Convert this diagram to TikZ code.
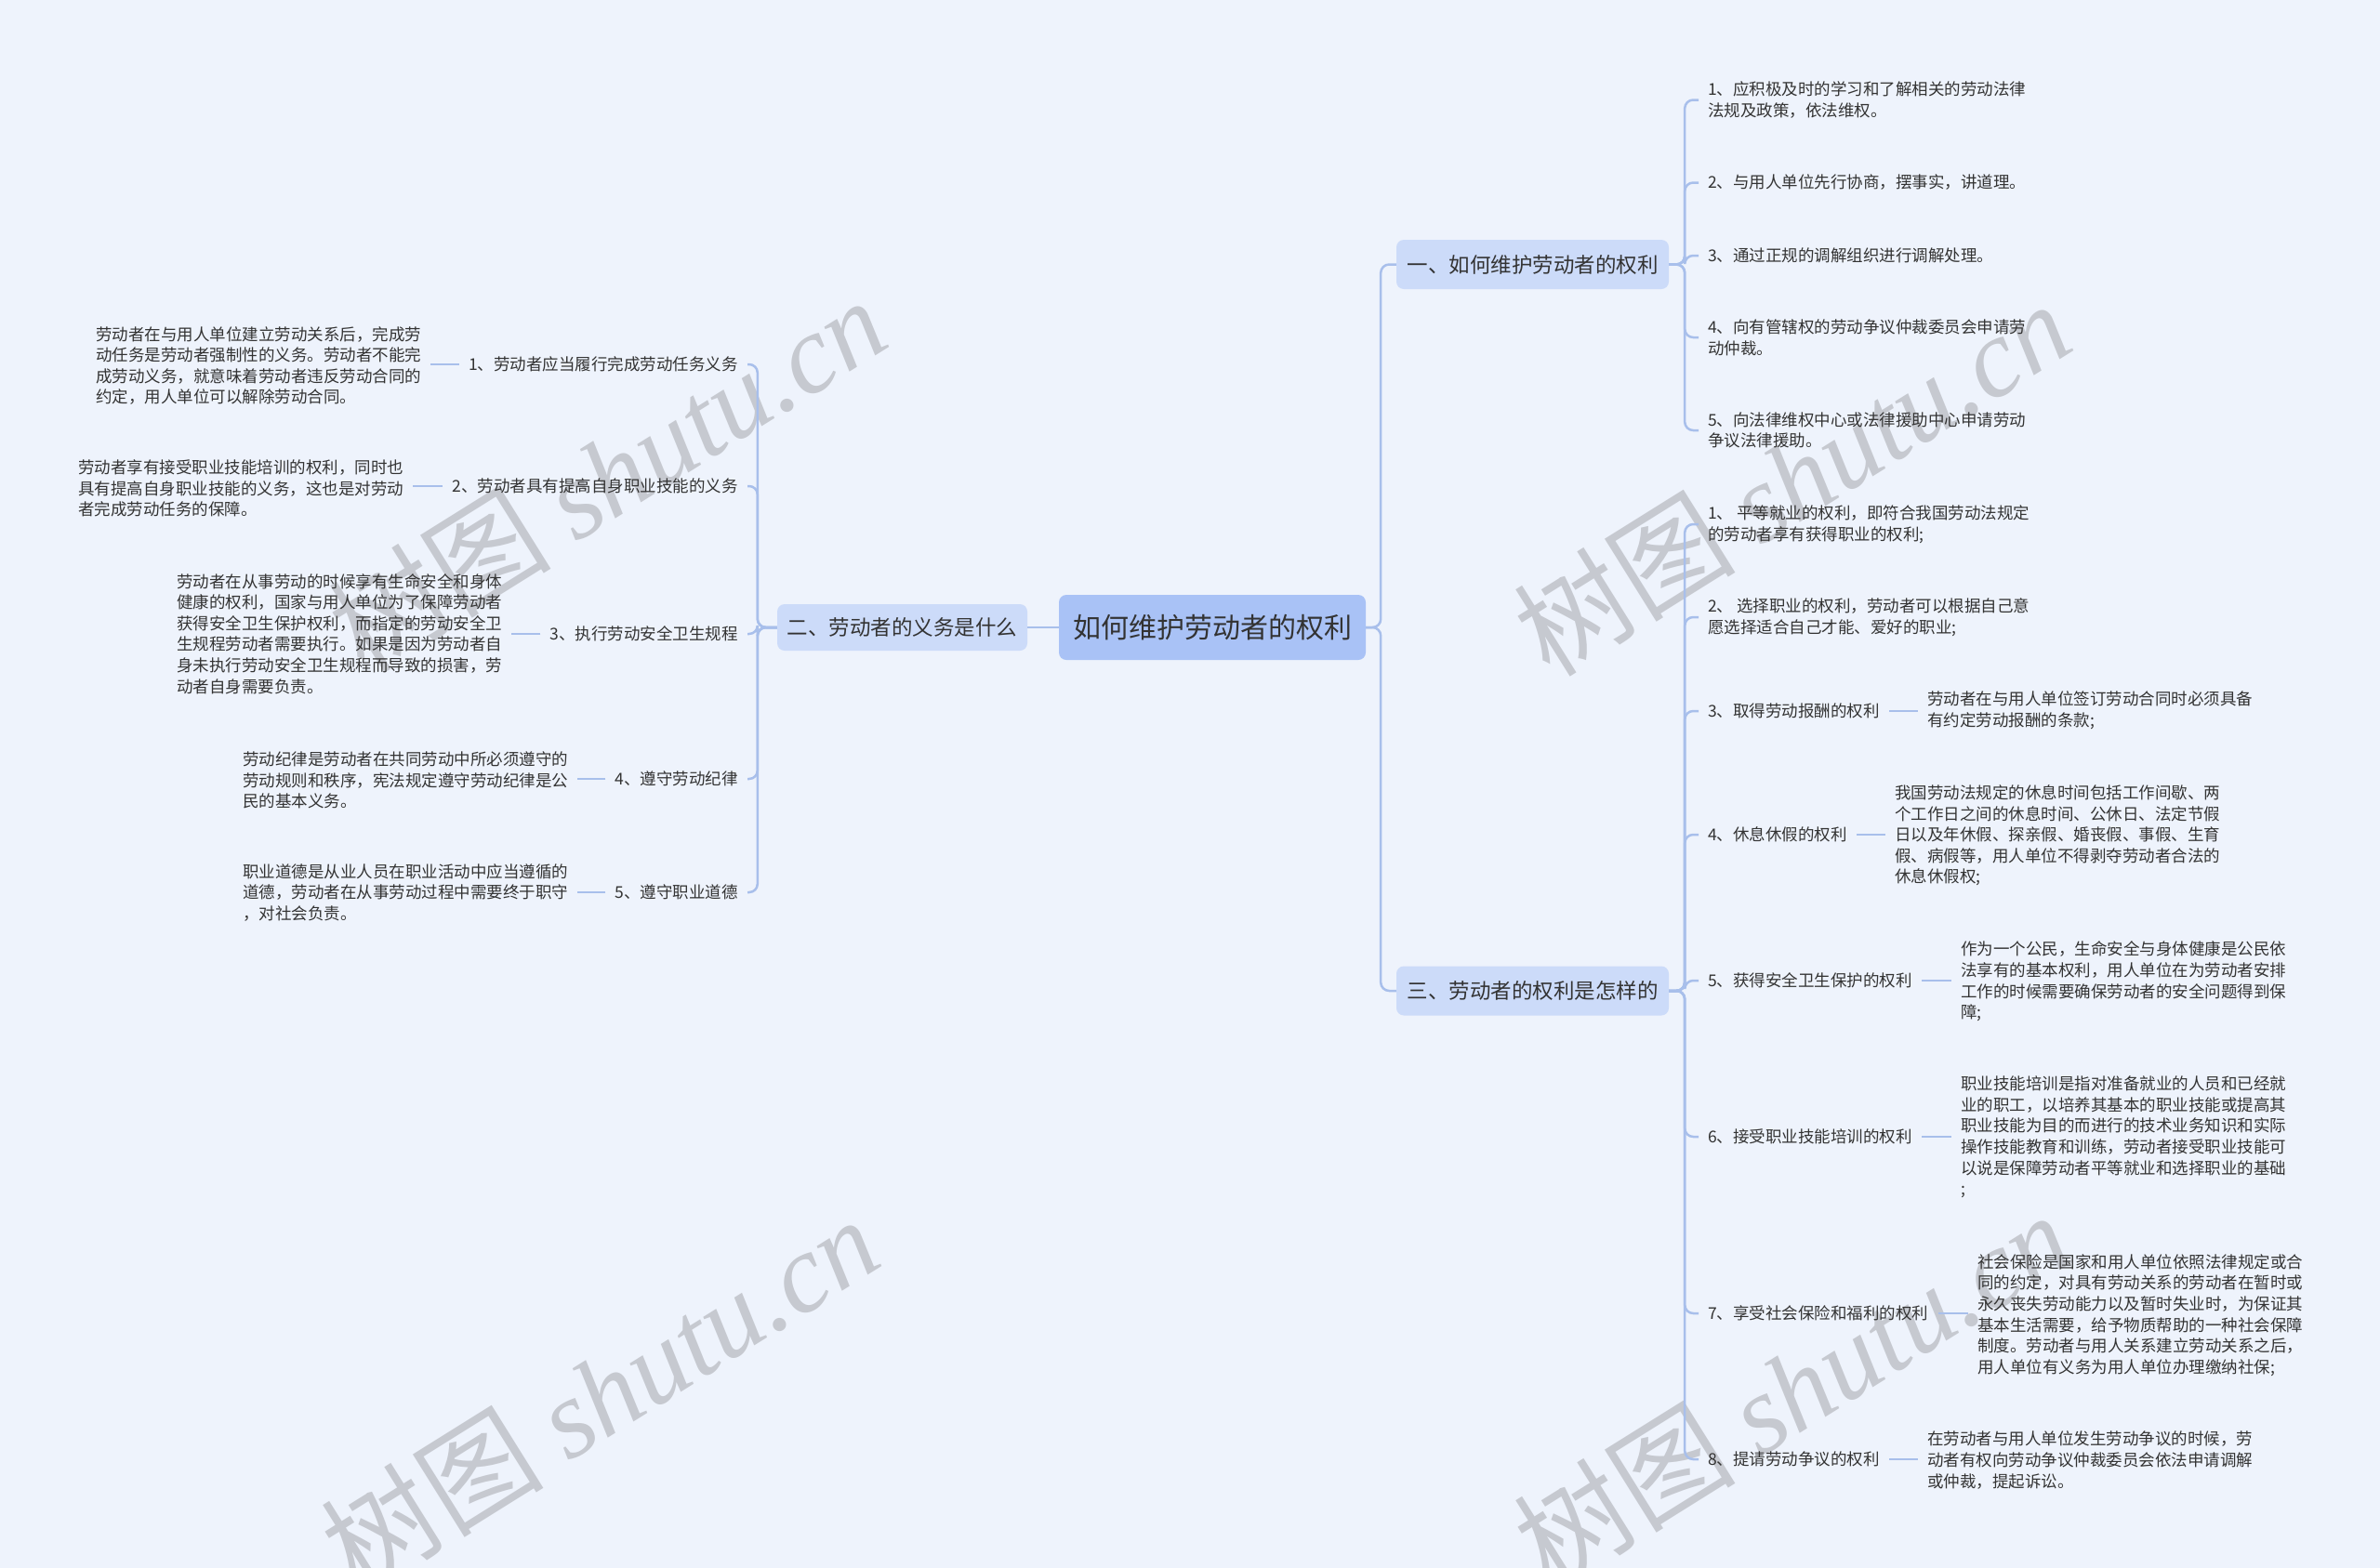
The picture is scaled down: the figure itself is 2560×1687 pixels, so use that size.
\documentclass[tikz,border=0pt]{standalone}
\usepackage{fontspec}
\setmainfont{Noto Sans CJK SC}
\newfontfamily\wmcjk{Noto Sans CJK SC}
\newfontfamily\wmlat{Liberation Serif}
\definecolor{bg}{HTML}{EEF3FC}
\definecolor{rootfill}{HTML}{A9C2F6}
\definecolor{brfill}{HTML}{CCDBF9}
\definecolor{edgec}{HTML}{A8BFEB}
\definecolor{txt}{HTML}{333333}
\definecolor{wm}{HTML}{C6C9D0}
\tikzset{
 rootbox/.style={fill=rootfill, rounded corners=8pt, minimum width=330pt, minimum height=70pt, inner sep=0pt, font=\fontsize{30}{36}\selectfont, text=txt},
 brbox/.style={fill=brfill, rounded corners=8pt, minimum width=293pt, minimum height=53pt, inner sep=0pt, font=\fontsize{22.5}{27}\selectfont, text=txt},
 itemtext/.style={inner xsep=10pt, inner ysep=0pt, align=left, font=\fontsize{17.5}{22.6}\selectfont, text=txt},
 conn/.style={draw=edgec, line width=2.5pt},
 busconn/.style={conn, rounded corners=9pt},
 watermark/.style={text=wm, rotate=32, font=\fontsize{120}{120}\selectfont}
}
\begin{document}
\begin{tikzpicture}[x=1pt,y=-1pt]
\fill[bg] (0,0) rectangle (2560,1687);
\useasboundingbox (0,0) rectangle (2560,1687);
% watermarks
\node[watermark] (wm1) at (653,510) {{\wmcjk 树图} {\wmlat\itshape shutu.cn}};
\node[watermark] (wm2) at (645,1499) {{\wmcjk 树图} {\wmlat\itshape shutu.cn}};
\node[watermark] (wm3) at (1927,514) {{\wmcjk 树图} {\wmlat\itshape shutu.cn}};
\node[watermark] (wm4) at (1927,1494) {{\wmcjk 树图} {\wmlat\itshape shutu.cn}};
% main nodes
\node[rootbox] (root) at (1304,675) {如何维护劳动者的权利};
\node[brbox] (b1) at (1648.5,284.5) {一、如何维护劳动者的权利};
\node[brbox] (b3) at (1648.5,1066) {三、劳动者的权利是怎样的};
\node[brbox, minimum width=269pt, minimum height=50pt] (b2) at (970.5,675) {二、劳动者的义务是什么};
% branch 1 children
\node[itemtext, anchor=west] (r1c1) at (1827,107.5) {1、应积极及时的学习和了解相关的劳动法律\\法规及政策，依法维权。};
\node[itemtext, anchor=west] (r1c2) at (1827,196.5) {2、与用人单位先行协商，摆事实，讲道理。};
\node[itemtext, anchor=west] (r1c3) at (1827,275) {3、通过正规的调解组织进行调解处理。};
\node[itemtext, anchor=west] (r1c4) at (1827,363) {4、向有管辖权的劳动争议仲裁委员会申请劳\\动仲裁。};
\node[itemtext, anchor=west] (r1c5) at (1827,463) {5、向法律维权中心或法律援助中心申请劳动\\争议法律援助。};
% branch 3 children
\node[itemtext, anchor=west] (r3c1) at (1827,564) {1、 平等就业的权利，即符合我国劳动法规定\\的劳动者享有获得职业的权利;};
\node[itemtext, anchor=west] (r3c2) at (1827,664) {2、 选择职业的权利，劳动者可以根据自己意\\愿选择适合自己才能、爱好的职业;};
\node[itemtext, anchor=west] (r3c3) at (1827,765) {3、取得劳动报酬的权利};
\node[itemtext, anchor=west] (r3c4) at (1827,898) {4、休息休假的权利};
\node[itemtext, anchor=west] (r3c5) at (1827,1055) {5、获得安全卫生保护的权利};
\node[itemtext, anchor=west] (r3c6) at (1827,1223) {6、接受职业技能培训的权利};
\node[itemtext, anchor=west] (r3c7) at (1827,1413) {7、享受社会保险和福利的权利};
\node[itemtext, anchor=west] (r3c8) at (1827,1570) {8、提请劳动争议的权利};
% branch 3 leaves
\node[itemtext, anchor=west] (r3l3) at (2063,764.5) {劳动者在与用人单位签订劳动合同时必须具备\\有约定劳动报酬的条款;};
\node[itemtext, anchor=west] (r3l4) at (2028,899) {我国劳动法规定的休息时间包括工作间歇、两\\个工作日之间的休息时间、公休日、法定节假\\日以及年休假、探亲假、婚丧假、事假、生育\\假、病假等，用人单位不得剥夺劳动者合法的\\休息休假权;};
\node[itemtext, anchor=west] (r3l5) at (2099,1056) {作为一个公民，生命安全与身体健康是公民依\\法享有的基本权利，用人单位在为劳动者安排\\工作的时候需要确保劳动者的安全问题得到保\\障;};
\node[itemtext, anchor=west] (r3l6) at (2099,1223.5) {职业技能培训是指对准备就业的人员和已经就\\业的职工，以培养其基本的职业技能或提高其\\职业技能为目的而进行的技术业务知识和实际\\操作技能教育和训练，劳动者接受职业技能可\\以说是保障劳动者平等就业和选择职业的基础\\;};
\node[itemtext, anchor=west] (r3l7) at (2117,1415) {社会保险是国家和用人单位依照法律规定或合\\同的约定，对具有劳动关系的劳动者在暂时或\\永久丧失劳动能力以及暂时失业时，为保证其\\基本生活需要，给予物质帮助的一种社会保障\\制度。劳动者与用人关系建立劳动关系之后，\\用人单位有义务为用人单位办理缴纳社保;};
\node[itemtext, anchor=west] (r3l8) at (2063,1571) {在劳动者与用人单位发生劳动争议的时候，劳\\动者有权向劳动争议仲裁委员会依法申请调解\\或仲裁，提起诉讼。};
% branch 2 children
\node[itemtext, anchor=east] (l1) at (804,392) {1、劳动者应当履行完成劳动任务义务};
\node[itemtext, anchor=east] (l2) at (804,523) {2、劳动者具有提高自身职业技能的义务};
\node[itemtext, anchor=east] (l3) at (804,682) {3、执行劳动安全卫生规程};
\node[itemtext, anchor=east] (l4) at (804,838) {4、遵守劳动纪律};
\node[itemtext, anchor=east] (l5) at (804,960) {5、遵守职业道德};
% branch 2 leaves
\node[itemtext, anchor=west] (ll1) at (93,393.5) {劳动者在与用人单位建立劳动关系后，完成劳\\动任务是劳动者强制性的义务。劳动者不能完\\成劳动义务，就意味着劳动者违反劳动合同的\\约定，用人单位可以解除劳动合同。};
\node[itemtext, anchor=west] (ll2) at (74,525.5) {劳动者享有接受职业技能培训的权利，同时也\\具有提高自身职业技能的义务，这也是对劳动\\者完成劳动任务的保障。};
\node[itemtext, anchor=west] (ll3) at (180,682) {劳动者在从事劳动的时候享有生命安全和身体\\健康的权利，国家与用人单位为了保障劳动者\\获得安全卫生保护权利，而指定的劳动安全卫\\生规程劳动者需要执行。如果是因为劳动者自\\身未执行劳动安全卫生规程而导致的损害，劳\\动者自身需要负责。};
\node[itemtext, anchor=west] (ll4) at (251,839.5) {劳动纪律是劳动者在共同劳动中所必须遵守的\\劳动规则和秩序，宪法规定遵守劳动纪律是公\\民的基本义务。};
\node[itemtext, anchor=west] (ll5) at (251,960.5) {职业道德是从业人员在职业活动中应当遵循的\\道德，劳动者在从事劳动过程中需要终于职守\\，对社会负责。};
% connectors: root
\draw[conn] (root.west) -- (b2.east);
\draw[busconn] (root.east) -- ++(16,0) |- (b1.west);
\draw[busconn] (root.east) -- ++(16,0) |- (b3.west);
% branch 1
\foreach \c in {r1c1,r1c2,r1c3,r1c4,r1c5}
  \draw[busconn] (b1.east) -- ++(17,0) |- (\c.west);
% branch 3
\foreach \c in {r3c1,r3c2,r3c3,r3c4,r3c5,r3c6,r3c7,r3c8}
  \draw[busconn] (b3.east) -- ++(17,0) |- (\c.west);
\foreach \c/\l in {r3c3/r3l3,r3c4/r3l4,r3c5/r3l5,r3c6/r3l6,r3c7/r3l7,r3c8/r3l8}
  \draw[conn] (\c.east) -- (\c.east -| \l.west);
% branch 2
\foreach \c in {l1,l2,l3,l4,l5}
  \draw[busconn] (b2.west) -- ++(-21,0) |- (\c.east);
\foreach \c/\l in {l1/ll1,l2/ll2,l3/ll3,l4/ll4,l5/ll5}
  \draw[conn] (\c.west) -- (\c.west -| \l.east);
\end{tikzpicture}
\end{document}
